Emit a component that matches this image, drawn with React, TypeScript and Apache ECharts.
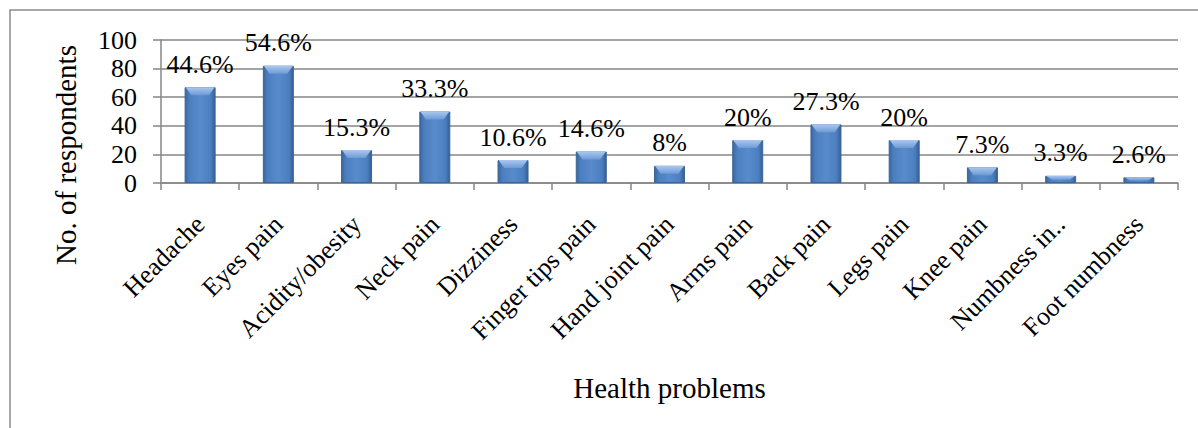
import React, { useEffect, useRef } from "react";
import * as echarts from "echarts";

const categories = [
  "Headache", "Eyes pain", "Acidity/obesity", "Neck pain", "Dizziness",
  "Finger tips pain", "Hand joint pain", "Arms pain", "Back pain", "Legs pain",
  "Knee pain", "Numbness in..", "Foot numbness",
];
const respondents = [67, 82, 23, 50, 16, 22, 12, 30, 41, 30, 11, 5, 4];
const percentLabels = [
  "44.6%", "54.6%", "15.3%", "33.3%", "10.6%", "14.6%", "8%",
  "20%", "27.3%", "20%", "7.3%", "3.3%", "2.6%",
];
const yTicks = { min: 0, max: 100, interval: 20 };

const FONT = "'Liberation Serif', serif";

export default function App() {
  const ref = useRef<HTMLDivElement>(null);
  useEffect(() => {
    if (!ref.current) return;
    const chart = echarts.init(ref.current, undefined, { renderer: "svg" });
    const gridTop = 40;
    const gridBottom = 245;
    const plotH = 428 - gridTop - gridBottom;
    const barW = 31;
    chart.setOption({
      animation: false,
      backgroundColor: "#ffffff",
      textStyle: { fontFamily: FONT },
      graphic: [
        {
          type: "rect",
          shape: { x: 10, y: 10, width: 1200, height: 440 },
          style: { fill: "none", stroke: "#8c8c8c", lineWidth: 1.5 },
          silent: true,
        },
        {
          type: "text",
          x: 66,
          y: 155,
          rotation: Math.PI / 2,
          style: {
            text: "No. of respondents",
            fontFamily: FONT,
            fontSize: 29,
            fill: "#000",
            align: "center",
            verticalAlign: "middle",
          },
          silent: true,
        },
      ],
      grid: { left: 161, right: 20, top: gridTop, bottom: gridBottom },
      xAxis: {
        type: "category",
        data: categories,
        name: "Health problems",
        nameLocation: "middle",
        nameGap: 190,
        nameTextStyle: { fontFamily: FONT, fontSize: 29, color: "#000" },
        axisLine: { lineStyle: { color: "#868686", width: 1.5 } },
        axisTick: { show: true, length: 7, lineStyle: { color: "#868686", width: 1.5 } },
        axisLabel: {
          rotate: 45,
          margin: 37,
          interval: 0,
          fontFamily: FONT,
          fontSize: 26,
          color: "#000",
        },
      },
      yAxis: {
        type: "value",
        min: yTicks.min,
        max: yTicks.max,
        interval: yTicks.interval,
        axisLine: { show: true, lineStyle: { color: "#868686", width: 1.5 } },
        axisTick: { show: true, length: 8, lineStyle: { color: "#868686", width: 1.5 } },
        splitLine: { lineStyle: { color: "#868686", width: 1.5 } },
        axisLabel: { fontFamily: FONT, fontSize: 26, color: "#000", margin: 24 },
      },
      series: [
        {
          type: "bar",
          data: respondents,
          barWidth: barW,
          itemStyle: {
            color: new echarts.graphic.LinearGradient(0, 0, 1, 0, [
              { offset: 0, color: "#3b66a0" },
              { offset: 0.15, color: "#4c7fc0" },
              { offset: 0.5, color: "#588bcc" },
              { offset: 0.85, color: "#4c7fc0" },
              { offset: 1, color: "#365f93" },
            ]),
            borderColor: "#3b6595",
            borderWidth: 1,
          },
          label: {
            show: true,
            position: "top",
            distance: 10,
            formatter: (p: any) => "{t|" + percentLabels[p.dataIndex] + "}",
            rich: {
              t: { fontFamily: FONT, fontSize: 26, color: "#000" },
            },
          },
          z: 2,
        },
        {
          type: "pictorialBar",
          symbol: "path://M0,0 L10,0 L8,2.2 L2,2.2 Z",
          symbolPosition: "end",
          barGap: "-100%",
          data: respondents.map((v) => ({
            value: v,
            symbolSize: [barW - 2, Math.min(8, (v / yTicks.max) * plotH * 0.55)],
          })),
          itemStyle: {
            color: new echarts.graphic.LinearGradient(0, 0, 0, 1, [
              { offset: 0, color: "#a9c8ee" },
              { offset: 1, color: "#6d9ad6" },
            ]),
          },
          silent: true,
          z: 3,
        },
      ],
    });
    return () => chart.dispose();
  }, []);
  return (
    <div
      ref={ref}
      style={{ position: "absolute", left: 0, top: 0, width: 1198, height: 428 }}
    />
  );
}
